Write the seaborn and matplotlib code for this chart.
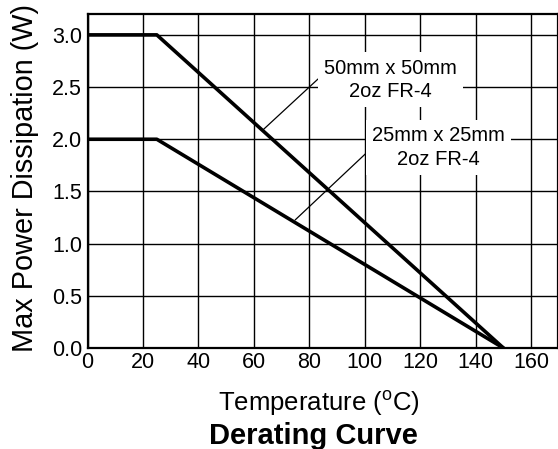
import matplotlib
matplotlib.use("Agg")
import matplotlib.pyplot as plt
import seaborn as sns
import pandas as pd
from matplotlib.ticker import MultipleLocator

# Data
temps = [0, 25, 150]
power_50mm = [3.0, 3.0, 0.0]
power_25mm = [2.0, 2.0, 0.0]
series_names = ["50mm x 50mm\n2oz FR-4", "25mm x 25mm\n2oz FR-4"]
x_ticks = [0, 20, 40, 60, 80, 100, 120, 140, 160]
y_ticks = [0.0, 0.5, 1.0, 1.5, 2.0, 2.5, 3.0]

df = pd.DataFrame({
    "Temperature": temps + temps,
    "Power": power_50mm + power_25mm,
    "Board": [series_names[0]] * 3 + [series_names[1]] * 3,
})

sns.set_style("white")
plt.rcParams["font.family"] = ["Liberation Sans", "DejaVu Sans"]
plt.rcParams["mathtext.default"] = "regular"
plt.rcParams["text.color"] = "black"
plt.rcParams["axes.labelcolor"] = "black"

W, H = 558, 449
fig = plt.figure(figsize=(W / 100, H / 100), dpi=100)
ax_left, ax_bottom, ax_top = 87.5, 348, 14
ax = fig.add_axes([ax_left / W, (H - ax_bottom) / H, 1.0 - ax_left / W,
                   (ax_bottom - ax_top) / H])
ax_w, ax_h = W - ax_left, ax_bottom - ax_top

sns.lineplot(data=df, x="Temperature", y="Power", hue="Board",
             palette=["black", "black"], linewidth=2.6, legend=False, ax=ax,
             zorder=3)

ax.set_xlim(0, 169.7)
ax.set_ylim(0, 3.2)
ax.set_xticks(x_ticks)
ax.set_yticks(y_ticks)
ax.set_xticklabels([str(t) for t in x_ticks])
ax.set_yticklabels([f"{t:.1f}" for t in y_ticks])
ax.xaxis.set_minor_locator(MultipleLocator(10))
ax.yaxis.set_minor_locator(MultipleLocator(0.25))
ax.tick_params(which="both", direction="in", labelsize=15.5, colors="black")
ax.tick_params(axis="y", pad=4)
ax.tick_params(axis="x", pad=3)
ax.tick_params(which="major", length=0)
ax.tick_params(which="minor", length=3, width=1)
ax.grid(True, which="major", color="black", linewidth=1.0)
ax.set_axisbelow(True)
for s in ax.spines.values():
    s.set_color("black")
    s.set_linewidth(1.6)

ax.set_xlabel("Temperature ($^{o}$C)", fontsize=18.5, color="black")
ax.xaxis.set_label_coords((319 - ax_left) / ax_w, (ax_bottom - 389) / ax_h)
ax.set_ylabel("Max Power Dissipation (W)", fontsize=20.8, color="black")
ax.yaxis.set_label_coords((39 - ax_left) / ax_w, (ax_bottom - 177.5) / ax_h)
fig.text(313.5 / W, 1 - 444 / H, "Derating Curve", fontsize=21,
         fontweight="bold", ha="center", va="baseline", color="black")

bbox = dict(boxstyle="square,pad=0.3", fc="white", ec="none")
ax.annotate(series_names[0], xy=(63.3, 2.09), xytext=(109.3, 2.57),
            ha="center", va="center", fontsize=14.5, linespacing=1.3,
            bbox=bbox, zorder=4, color="black",
            arrowprops=dict(arrowstyle="-", color="black", lw=0.9,
                            relpos=(0, 0.65), shrinkA=0, shrinkB=0))
ax.annotate(series_names[1], xy=(74.9, 1.227), xytext=(126.6, 1.92),
            ha="center", va="center", fontsize=14.5, linespacing=1.3,
            bbox=bbox, zorder=4, color="black",
            arrowprops=dict(arrowstyle="-", color="black", lw=0.9,
                            relpos=(0, 0.5), shrinkA=0, shrinkB=0))

fig.savefig("out.png", dpi=100)
